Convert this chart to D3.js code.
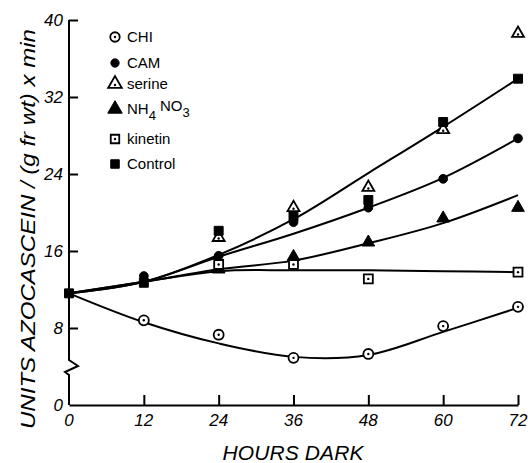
<!DOCTYPE html>
<html>
<head>
<meta charset="utf-8">
<style>
body { margin: 0; background: #fff; }
svg text { font-family: "Liberation Sans", "DejaVu Sans", sans-serif; fill: #000; }
.tick-label { font-style: italic; font-size: 17px; }
.axis-title { font-style: italic; font-size: 21px; }
.legend-text { font-size: 15px; }
</style>
</head>
<body>
<div id="chart"></div>
<script src="https://cdn.jsdelivr.net/npm/d3@7"></script>
<script>
// hours
var hours = [0, 12, 24, 36, 48, 60, 72];
var xTicks = [0, 12, 24, 36, 48, 60, 72];
var yTicks = [0, 8, 16, 24, 32, 40];

// measured points (null = no point shown)
var chiPts     = [null, 8.8, 7.3, 4.9, 5.3, 8.2, 10.2];
var camPts     = [null, 13.4, 15.5, 19.0, 20.5, 23.5, 27.7];
var serinePts  = [null, null, 17.4, 20.5, 22.6, 28.6, 38.6];
var nh4Pts     = [null, null, 14.1, 15.4, 16.9, 19.4, 20.5];
var kinetinPts = [null, null, 14.6, 14.6, 13.1, null, 13.8];
var controlPts = [11.6, 12.7, 18.1, 19.6, 21.3, 29.4, 33.9];

// hand fitted curves
var chiFit     = [11.6, 8.6, 6.4, 5.0, 5.2, 7.6, 10.1];
var camFit     = [11.6, 12.8, 15.4, 17.8, 20.5, 23.6, 27.7];
var nh4Fit     = [11.6, 12.8, 14.1, 15.0, 16.8, 18.9, 21.8];
var kinetinFit = [11.6, 12.8, 13.9, 14.0, 14.0, 13.9, 13.8];
var controlFit = [11.6, 12.8, 15.6, 19.3, 24.1, 28.9, 33.9];

var series = [
    {name: "CHI", pts: chiPts, shape: "circle", open: true},
    {name: "CAM", pts: camPts, shape: "circle", open: false},
    {name: "serine", pts: serinePts, shape: "triangle", open: true},
    {name: "NH4NO3", pts: nh4Pts, shape: "triangle", open: false},
    {name: "kinetin", pts: kinetinPts, shape: "square", open: true},
    {name: "Control", pts: controlPts, shape: "square", open: false}
];
var fits = [chiFit, camFit, nh4Fit, kinetinFit, controlFit];

var W = 528, H = 463;
var svg = d3.select("#chart").append("svg").attr("width", W).attr("height", H);

var x = d3.scaleLinear().domain([0, 72]).range([69, 518]);
var y = d3.scaleLinear().domain([0, 40]).range([405, 20]);

// axes (ticks pointing inward)
var xAxis = svg.append("g").attr("transform", "translate(0," + y(0) + ")")
    .call(d3.axisBottom(x).tickValues(xTicks).tickSize(-10).tickSizeOuter(0).tickFormat(""));
var yAxis = svg.append("g").attr("transform", "translate(" + x(0) + ",0)")
    .call(d3.axisLeft(y).tickValues(yTicks.slice(1)).tickSize(-9).tickSizeOuter(0).tickFormat(""));
xAxis.selectAll("line").filter(function (d) { return d === 0; }).remove();
[xAxis, yAxis].forEach(function (a) {
    a.select(".domain").attr("stroke", "#000").attr("stroke-width", 2);
    a.selectAll(".tick line").attr("stroke", "#000").attr("stroke-width", 2);
});
// y axis break: cut the domain and draw the zigzag
yAxis.select(".domain").remove();
var x0 = x(0), yb = y(0);
svg.append("path")
    .attr("d", "M" + x0 + "," + y(40) + "L" + x0 + "," + (yb - 45) +
        "L" + (x0 + 9) + "," + (yb - 39) + "L" + (x0 - 4) + "," + (yb - 33) +
        "L" + x0 + "," + (yb - 30) + "L" + x0 + "," + yb)
    .attr("fill", "none").attr("stroke", "#000").attr("stroke-width", 2);

svg.selectAll(".xl").data(xTicks).enter().append("text")
    .attr("class", "tick-label").attr("x", function (d) { return x(d); })
    .attr("y", 426).attr("text-anchor", "middle").text(function (d) { return d; });
svg.selectAll(".yl").data(yTicks).enter().append("text")
    .attr("class", "tick-label").attr("x", 63)
    .attr("y", function (d) { return y(d) + 6; }).attr("text-anchor", "end")
    .text(function (d) { return d; });

svg.append("text").attr("class", "axis-title")
    .attr("x", 293).attr("y", 460).attr("text-anchor", "middle")
    .attr("textLength", 141).attr("lengthAdjust", "spacing")
    .text("HOURS DARK");
svg.append("text").attr("class", "axis-title")
    .attr("transform", "translate(35,229) rotate(-90)").attr("text-anchor", "middle")
    .attr("textLength", 400).attr("lengthAdjust", "spacingAndGlyphs")
    .text("UNITS AZOCASCEIN / (g fr wt) x min");

// fitted curves
var line = d3.line()
    .x(function (d, i) { return x(hours[i]); })
    .y(function (d) { return y(d); })
    .curve(d3.curveCatmullRom.alpha(0.5));
svg.selectAll(".fit").data(fits).enter().append("path")
    .attr("d", line).attr("fill", "none").attr("stroke", "#000").attr("stroke-width", 2);

// markers
function drawMarker(g, shape, open, cx, cy, s) {
    var sym = shape === "circle" ? d3.symbolCircle : shape === "square" ? d3.symbolSquare : d3.symbolTriangle;
    var size = shape === "circle" ? (open ? 78 : 60) : shape === "square" ? 80 : (open ? 62 : 70);
    g.append("path")
        .attr("d", d3.symbol().type(sym).size(size * s)())
        .attr("transform", "translate(" + cx + "," + cy + ")")
        .attr("fill", open ? "#fff" : "#000").attr("stroke", "#000").attr("stroke-width", open ? 1.8 : 1);
    if (open) {
        g.append("circle").attr("cx", cx).attr("cy", cy + (shape === "triangle" ? 1 : 0)).attr("r", 1.2).attr("fill", "#000");
    }
}
var mg = svg.append("g");
series.forEach(function (s) {
    s.pts.forEach(function (v, i) {
        if (v === null) return;
        drawMarker(mg, s.shape, s.open, x(hours[i]), y(v), 1);
    });
});

// legend
var legendY = [37, 63, 84, 109, 139, 164];
var lg = svg.append("g");
series.forEach(function (s, i) {
    drawMarker(lg, s.shape, s.open, 115, legendY[i], s.shape === "triangle" ? 1.3 : 0.9);
    var t = lg.append("text").attr("class", "legend-text").attr("x", 127).attr("y", legendY[i] + 5);
    if (s.name === "NH4NO3") {
        t.append("tspan").text("NH");
        t.append("tspan").attr("dy", 6).attr("font-size", 13).text("4");
        t.append("tspan").attr("dy", -9).attr("dx", 4).text("NO");
        t.append("tspan").attr("dy", 6).attr("font-size", 13).text("3");
    } else {
        t.text(s.name);
    }
});
</script>
</body>
</html>
